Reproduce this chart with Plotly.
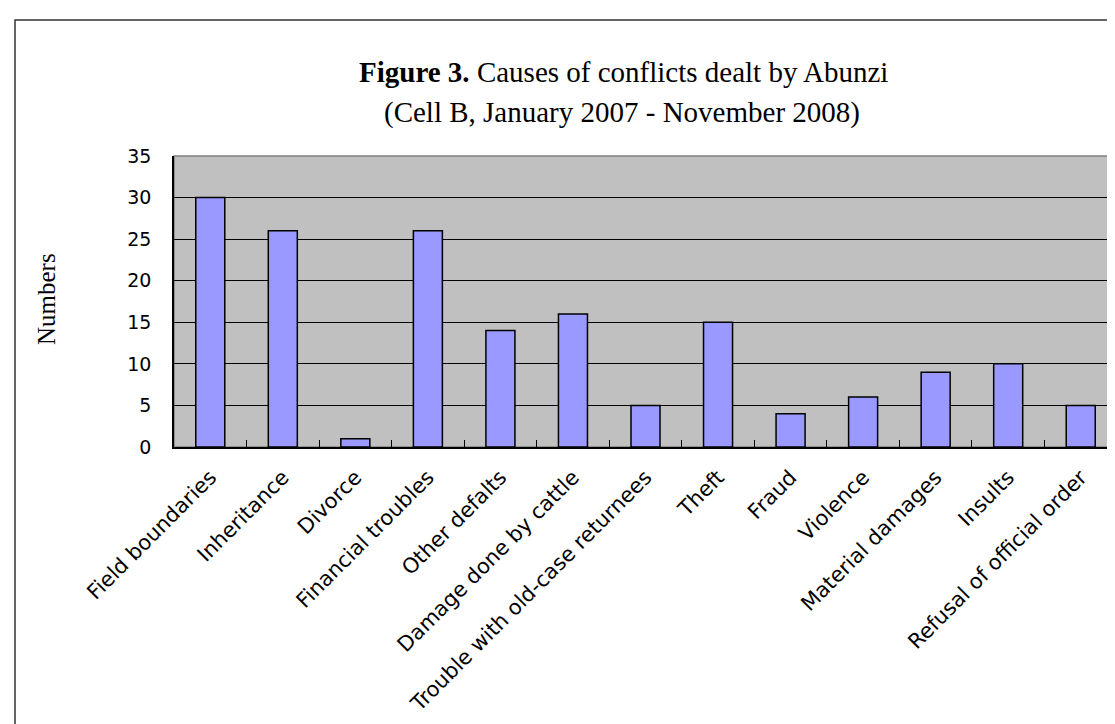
import plotly.graph_objects as go

categories = ["Field boundaries", "Inheritance", "Divorce", "Financial troubles",
              "Other defalts", "Damage done by cattle", "Trouble with old-case returnees",
              "Theft", "Fraud", "Violence", "Material damages", "Insults",
              "Refusal of official order"]
values = [30, 26, 1, 26, 14, 16, 5, 15, 4, 6, 9, 10, 5]
y_ticks = [0, 5, 10, 15, 20, 25, 30, 35]

W, H = 1115, 724
L, R, T, B = 166, 6, 148, 285
pw = W - L - R
ph = H - T - B

def px(x):
    return (x - L) / pw

def py(y):
    return (H - B - y) / ph

fig = go.Figure()
fig.add_trace(go.Bar(
    x=categories, y=values,
    marker=dict(color="#9999ff", line=dict(color="black", width=1.5)),
))

fig.update_layout(
    width=W, height=H,
    margin=dict(l=L, r=R, t=T, b=B, pad=0),
    paper_bgcolor="white",
    plot_bgcolor="#c0c0c0",
    bargap=0.6,
    showlegend=False,
    font=dict(family="DejaVu Sans", color="black"),
    xaxis=dict(
        type="category", tickangle=-45, tickson="boundaries",
        ticks="inside", ticklen=7, tickcolor="black", tickwidth=1,
        showline=True, linecolor="black", linewidth=1.5,
        showgrid=False, tickfont=dict(family="DejaVu Sans", size=21, color="black"),
        ticklabelstandoff=8,
    ),
    yaxis=dict(
        range=[0, 35], tickvals=y_ticks, ticks="inside", ticklen=7,
        tickcolor="black", showline=True, linecolor="black", linewidth=1.5,
        showgrid=True, gridcolor="black", gridwidth=1, zeroline=False,
        tickfont=dict(family="DejaVu Sans", size=19, color="black"),
        ticklabelstandoff=17,
    ),
    shapes=[
        dict(type="rect", xref="paper", yref="paper", x0=0, x1=1, y0=0, y1=1,
             line=dict(color="#808080", width=1.5), layer="below"),
        dict(type="rect", xref="paper", yref="paper",
             x0=px(7), x1=px(1125), y0=py(735), y1=py(12),
             line=dict(color="#333333", width=1.5)),
    ],
    annotations=[
        dict(text="<b>Figure 3.</b> Causes of conflicts dealt by Abunzi",
             xref="paper", yref="paper", x=px(615), y=py(64), showarrow=False,
             xanchor="center", yanchor="middle",
             font=dict(family="Liberation Serif", size=29, color="black")),
        dict(text="(Cell B, January 2007 - November 2008)",
             xref="paper", yref="paper", x=px(614), y=py(104), showarrow=False,
             xanchor="center", yanchor="middle",
             font=dict(family="Liberation Serif", size=29, color="black")),
        dict(text="Numbers", textangle=-90,
             xref="paper", yref="paper", x=px(38), y=py(291), showarrow=False,
             xanchor="center", yanchor="middle",
             font=dict(family="Liberation Serif", size=25, color="black")),
    ],
)

fig.write_html("out.html")
